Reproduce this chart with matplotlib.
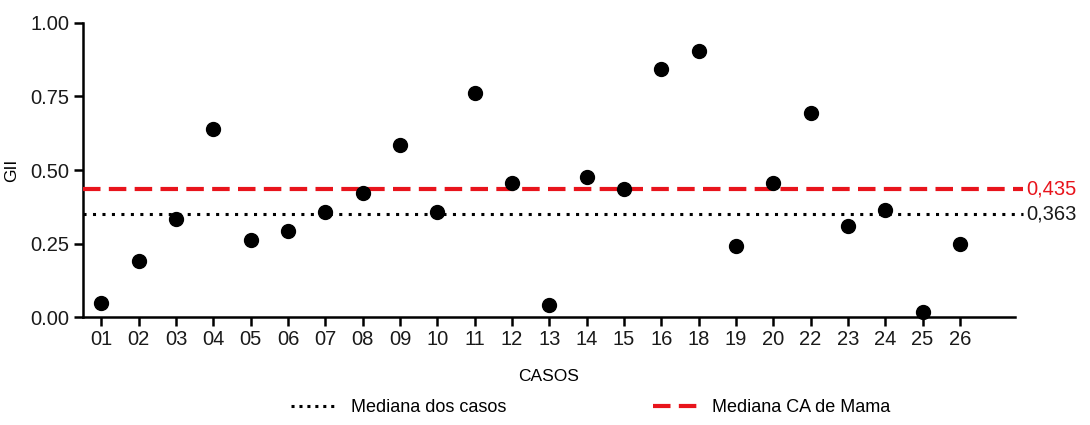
import matplotlib
matplotlib.use("Agg")
import matplotlib.pyplot as plt
from matplotlib.lines import Line2D

plt.rcParams['font.family'] = ['Liberation Sans Narrow', 'Liberation Sans', 'DejaVu Sans']

casos = ["01", "02", "03", "04", "05", "06", "07", "08", "09", "10", "11", "12", "13",
         "14", "15", "16", "18", "19", "20", "22", "23", "24", "25", "26"]
gii = [0.047, 0.192, 0.332, 0.639, 0.261, 0.293, 0.357, 0.421, 0.585, 0.356, 0.763, 0.456, 0.042,
       0.475, 0.435, 0.842, 0.905, 0.241, 0.456, 0.694, 0.310, 0.364, 0.018, 0.249]
mediana_casos = 0.349
mediana_casos_label = "0,363"
mediana_mama = 0.435
mediana_mama_label = "0,435"
yticks = [0.0, 0.25, 0.5, 0.75, 1.0]
ytick_labels = ["0.00", "0.25", "0.50", "0.75", "1.00"]

fig = plt.figure(figsize=(10.9, 4.25), dpi=100)
ax = fig.add_axes([0.0759, 0.254, 0.931 - 0.0759, 0.946 - 0.254])

x = list(range(len(casos)))
ax.set_xlim(-0.5, 24.47)
ax.set_ylim(0, 1.0)

ax.scatter(x, gii, s=100, color='black', zorder=4, clip_on=False)

line_x = [-0.5, 24.68]
ax.plot(line_x, [mediana_mama] * 2, color='#e8141c', lw=3.0, dashes=(4.2, 2.0),
        clip_on=False, zorder=3)
ax.plot(line_x, [mediana_casos] * 2, color='black', lw=2.2, linestyle=(0, (1, 2.1)),
        clip_on=False, zorder=3)

ax.text(24.78, mediana_mama, mediana_mama_label, color='#e8141c', fontsize=14.5,
        va='center', ha='left', clip_on=False)
ax.text(24.78, mediana_casos, mediana_casos_label, color='#1a1a1a', fontsize=14.5,
        va='center', ha='left', clip_on=False)

for s in ['top', 'right']:
    ax.spines[s].set_visible(False)
for s in ['left', 'bottom']:
    ax.spines[s].set_linewidth(1.8)

ax.set_xticks(x)
ax.set_xticklabels(casos, fontsize=14.5, color='#1a1a1a')
ax.set_yticks(yticks)
ax.set_yticklabels(ytick_labels, fontsize=14.5, color='#1a1a1a')
ax.tick_params(axis='both', width=1.8, length=6.5, pad=3)

ax.set_ylabel("GII", fontsize=12.5, labelpad=8)
ax.set_xlabel("CASOS", fontsize=12.5, labelpad=14)

h1 = Line2D([], [], color='black', lw=2.2, linestyle=(0, (1, 1.6)))
h2 = Line2D([], [], color='#e8141c', lw=3.0, dashes=(4.2, 2.0))
fig.legend([h1], ["Mediana dos casos"], loc='center left', bbox_to_anchor=(0.252, 0.04),
           frameon=False, fontsize=13, handlelength=2.6, handletextpad=0.7)
fig.legend([h2], ["Mediana CA de Mama"], loc='center left', bbox_to_anchor=(0.584, 0.04),
           frameon=False, fontsize=13, handlelength=2.6, handletextpad=0.7)

fig.savefig("out.png", dpi=100)
